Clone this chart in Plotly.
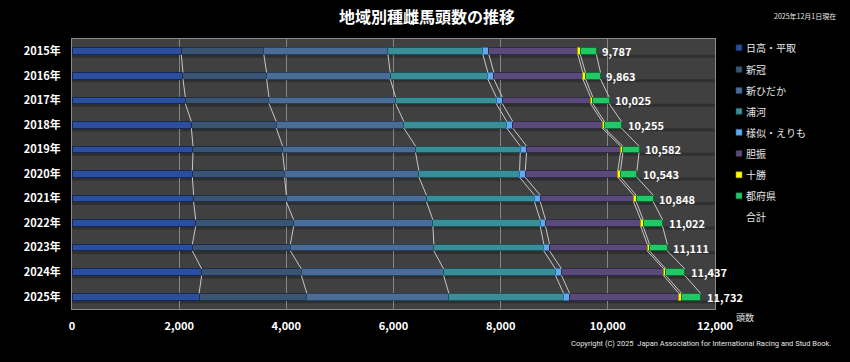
import plotly.graph_objects as go

years = ["2015年", "2016年", "2017年", "2018年", "2019年", "2020年",
         "2021年", "2022年", "2023年", "2024年", "2025年"]
series_names = ["日高・平取", "新冠", "新ひだか", "浦河", "様似・えりも", "胆振", "十勝", "都府県"]
hidaka = [2040, 2071, 2115, 2228, 2258, 2246, 2270, 2308, 2246, 2420, 2371]
niikappu = [1540, 1561, 1561, 1585, 1673, 1722, 1730, 1828, 1829, 1860, 2013]
shinhidaka = [2316, 2308, 2363, 2381, 2481, 2506, 2616, 2599, 2679, 2655, 2650]
urakawa = [1772, 1821, 1879, 1922, 1954, 1879, 2016, 2004, 2052, 2089, 2140]
samani = [112, 112, 112, 112, 117, 106, 107, 99, 106, 112, 113]
iburi = [1660, 1661, 1647, 1668, 1754, 1728, 1741, 1778, 1823, 1903, 2038]
tokachi = [45, 50, 43, 42, 43, 50, 50, 44, 43, 43, 50]
fuken = [302, 279, 305, 317, 302, 306, 318, 362, 333, 355, 357]
x_ticks = [0, 2000, 4000, 6000, 8000, 10000, 12000]

series_values = [hidaka, niikappu, shinhidaka, urakawa, samani, iburi, tokachi, fuken]
colors = ["#2b4f9e", "#3a5474", "#4a6d98", "#3a8e98", "#62aaec", "#5a4a7a", "#ffff00", "#22c866"]
edge = ["#13295a", "#1e2e44", "#28405e", "#1d5358", "#2c6aa8", "#33294a", "#9a9a00", "#0d6e34"]

ypos = list(range(len(years)))
BW = 0.27

fig = go.Figure()

shapes = []
for i in ypos:
    shapes.append(dict(type="line", xref="paper", yref="y", x0=0, x1=1,
                       y0=i + 0.2, y1=i + 0.2, line=dict(color="#2f2f2f", width=3), layer="below"))

for name, vals, c, e in zip(series_names, series_values, colors, edge):
    fig.add_trace(go.Bar(y=ypos, x=vals, orientation="h", name=name, width=BW,
                         marker=dict(color=c, line=dict(color=e, width=1)),
                         showlegend=False))

cum = []
for i in ypos:
    s = 0
    row = []
    for vals in series_values:
        s += vals[i]
        row.append(s)
    cum.append(row)
totals = [r[-1] for r in cum]

lx, ly = [], []
for k in range(len(series_values)):
    for i in range(len(years) - 1):
        lx += [cum[i][k], cum[i + 1][k], None]
        ly += [i + BW / 2, i + 1 - BW / 2, None]
fig.add_trace(go.Scatter(x=lx, y=ly, mode="lines", line=dict(color="#c8c8c8", width=1),
                         showlegend=False, hoverinfo="skip"))

annotations = []
for i, t in zip(ypos, totals):
    annotations.append(dict(x=t, y=i, xref="x", yref="y", text=f"{t:,}", showarrow=False,
                            xanchor="left", yanchor="middle", xshift=4,
                            font=dict(color="#ffffff", size=11, weight="bold")))

W_PLOT = 643.0
H_PLOT = 270.0
def px_x(px):
    return (px - 72) / W_PLOT
def px_y(py):
    return (309 - py) / H_PLOT

leg_y = [47.7, 69.5, 90.5, 111.3, 132.3, 153.5, 174.8, 195.8, 216.8]
for j, name in enumerate(series_names + ["合計"]):
    yy = leg_y[j]
    if j < len(series_names):
        shapes.append(dict(type="rect", xref="paper", yref="paper",
                           x0=px_x(736), x1=px_x(742), y0=px_y(yy + 3), y1=px_y(yy - 3),
                           fillcolor=colors[j], line=dict(color=edge[j], width=0.6)))
    annotations.append(dict(x=px_x(743.5), y=px_y(yy), xref="paper", yref="paper",
                            text=name, showarrow=False, xanchor="left", yanchor="middle",
                            font=dict(color="#e6e6e6", size=10)))

annotations.append(dict(x=px_x(734), y=px_y(317), xref="paper", yref="paper",
                        text="頭数", showarrow=False, xanchor="left", yanchor="middle",
                        font=dict(color="#e6e6e6", size=9)))
annotations.append(dict(x=px_x(838), y=px_y(16), xref="paper", yref="paper",
                        text="2025年12月1日現在", showarrow=False, xanchor="right", yanchor="middle",
                        font=dict(color="#e6e6e6", size=7)))
annotations.append(dict(x=px_x(833), y=px_y(343), xref="paper", yref="paper",
                        text="Copyright (C) 2025  Japan Association for International Racing and Stud Book.",
                        showarrow=False, xanchor="right", yanchor="middle",
                        font=dict(color="#e6e6e6", size=7.5,
                                  family="Liberation Sans Narrow, Arial Narrow, Roboto, sans-serif")))

fig.update_layout(
    width=850, height=362,
    margin=dict(l=72, r=135, t=39, b=53, autoexpand=False),
    paper_bgcolor="#000000", plot_bgcolor="#404040",
    barmode="stack", bargap=0.74,
    font=dict(family="Noto Sans CJK JP, sans-serif", color="#ffffff"),
    title=dict(text="地域別種雌馬頭数の推移", x=427 / 850, xanchor="center", y=1 - 17 / 362,
               yanchor="middle", font=dict(size=16, color="#ffffff", weight="bold")),
    xaxis=dict(range=[0, 12000], tickvals=x_ticks, tickformat=",",
               showgrid=True, gridcolor="#858585", gridwidth=1, zeroline=False,
               showline=True, linecolor="#8a8a8a", mirror=True,
               ticks="", ticklabelstandoff=7,
               tickfont=dict(size=11, color="#ffffff", weight="bold")),
    yaxis=dict(range=[10.5, -0.5], tickvals=ypos, ticktext=years,
               showgrid=False, zeroline=False, showline=True, linecolor="#8a8a8a", mirror=True,
               ticks="", ticklabelstandoff=8,
               tickfont=dict(size=11, color="#ffffff", weight="bold")),
    shapes=shapes, annotations=annotations,
)

fig.write_html("out.html", config={"displayModeBar": False},
               post_script="document.body.style.margin='0';document.body.style.background='#000';")
